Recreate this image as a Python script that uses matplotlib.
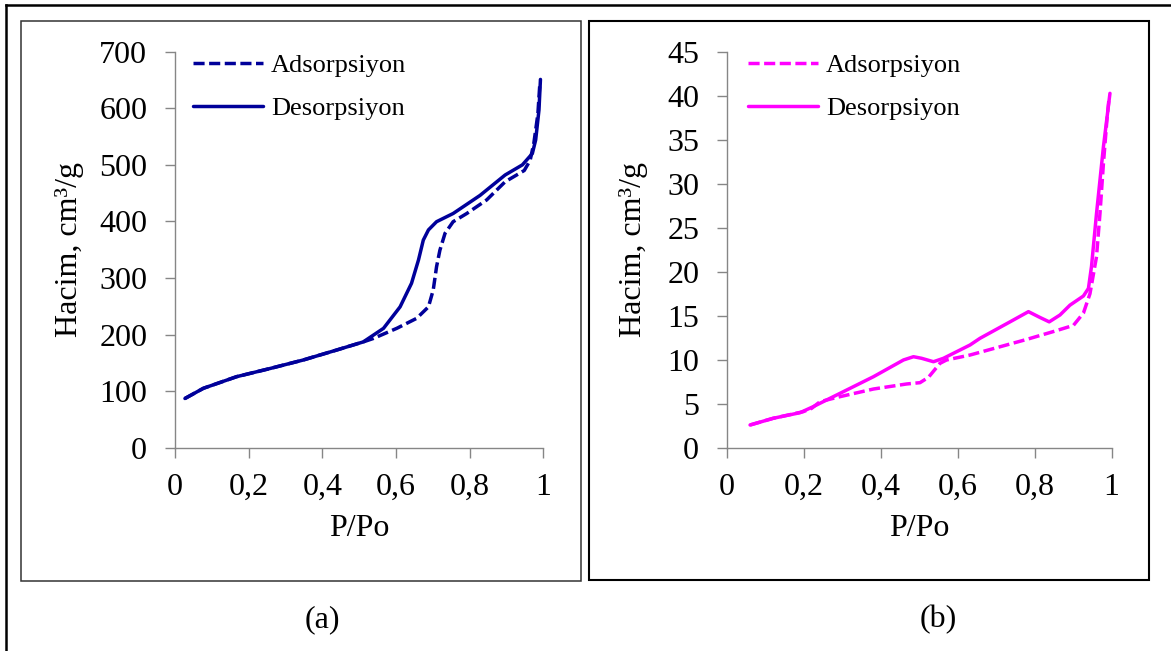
import matplotlib
matplotlib.use("Agg")
import matplotlib.pyplot as plt
from matplotlib.patches import Rectangle
from matplotlib.lines import Line2D

# ---------------- data ----------------
ads_a_x = [0.027, 0.077, 0.167, 0.258, 0.348, 0.439, 0.511, 0.538, 0.602, 0.656, 0.688,
           0.701, 0.710, 0.719, 0.733, 0.755, 0.792, 0.846, 0.896, 0.948, 0.964, 0.974,
           0.985, 0.99]
ads_a_y = [87, 105, 125.5, 140, 155, 172.7, 187, 193, 211, 228.7, 249,
           279, 320, 349, 379, 399.5, 414, 438, 470, 490, 508, 538,
           590, 640]

des_a_x = [0.027, 0.077, 0.167, 0.258, 0.348, 0.439, 0.511, 0.566, 0.611, 0.642, 0.661,
           0.674, 0.688, 0.710, 0.755, 0.828, 0.896, 0.943, 0.97, 0.979, 0.988, 0.992]
des_a_y = [87, 105, 125.5, 140, 155, 172.7, 187, 211, 249, 290.6, 332,
           367, 385, 399.5, 414, 446, 482, 500, 520, 544, 597, 651]

ads_b_x = [0.060, 0.120, 0.198, 0.220, 0.242, 0.294, 0.381, 0.467, 0.502, 0.524, 0.554,
           0.571, 0.632, 0.779, 0.849, 0.901, 0.927, 0.944, 0.961, 0.970, 0.979, 0.988,
           0.994]
ads_b_y = [2.58, 3.34, 4.09, 4.47, 5.23, 5.8, 6.67, 7.24, 7.39, 8.0, 9.59,
           9.97, 10.53, 12.3, 13.2, 13.9, 15.3, 17.5, 21.7, 26.6, 32.3, 37.2,
           39.9]

des_b_x = [0.060, 0.120, 0.190, 0.224, 0.294, 0.381, 0.459, 0.485, 0.506, 0.537, 0.563,
           0.632, 0.658, 0.736, 0.784, 0.814, 0.838, 0.866, 0.892, 0.927, 0.940, 0.948,
           0.961, 0.979, 0.996]
des_b_y = [2.58, 3.34, 3.98, 4.66, 6.18, 8.07, 9.97, 10.34, 10.16, 9.77, 10.16,
           11.67, 12.43, 14.3, 15.46, 14.8, 14.3, 15.08, 16.2, 17.24, 18.1, 20.6,
           26.6, 34.2, 40.27]

x_ticks = [0, 0.2, 0.4, 0.6, 0.8, 1]
x_ticklabels = ["0", "0,2", "0,4", "0,6", "0,8", "1"]
y_ticks_a = [0, 100, 200, 300, 400, 500, 600, 700]
y_ticks_b = [0, 5, 10, 15, 20, 25, 30, 35, 40, 45]
series_labels = ["Adsorpsiyon", "Desorpsiyon"]
x_label = "P/Po"
y_label = "Hacim, cm³/g"
panel_labels = ["(a)", "(b)"]

# ---------------- style ----------------
plt.rcParams['font.family'] = 'serif'
plt.rcParams['font.serif'] = ['Liberation Serif', 'Times New Roman', 'DejaVu Serif']
W, H = 1171, 651
fig = plt.figure(figsize=(W / 100, H / 100), dpi=100)

def fx(px):
    return px / W

def fy(py):
    return 1 - py / H

TICK_FS = 23
LEG_FS = 19
LW = 2.5
DASH = (3.2, 1.3)
AXIS_GRAY = "#868686"

def make_panel(left_px, right_px, xs_ads, ys_ads, xs_des, ys_des, color,
               yticks, ylabel_x, leg_x):
    top_px, bot_px = 51.7, 447.7
    ax = fig.add_axes([fx(left_px), fy(bot_px), fx(right_px - left_px), (bot_px - top_px) / H])
    ax.plot(xs_ads, ys_ads, color=color, lw=LW, linestyle=(0, DASH),
            label=series_labels[0], solid_joinstyle='round')
    ax.plot(xs_des, ys_des, color=color, lw=LW, label=series_labels[1],
            solid_joinstyle='round', solid_capstyle='round')
    ax.set_xlim(0, 1)
    ax.set_ylim(yticks[0], yticks[-1])
    ax.set_xticks(x_ticks)
    ax.set_xticklabels(x_ticklabels)
    ax.set_yticks(yticks)
    ax.set_yticklabels([str(v) for v in yticks])
    for s in ['top', 'right']:
        ax.spines[s].set_visible(False)
    for s in ['left', 'bottom']:
        ax.spines[s].set_color(AXIS_GRAY)
        ax.spines[s].set_linewidth(1.0)
    ax.tick_params(axis='both', direction='out', length=7, width=1.0,
                   color=AXIS_GRAY, labelsize=TICK_FS, labelcolor='black')
    ax.tick_params(axis='y', pad=13)
    ax.tick_params(axis='x', pad=11)
    ax.set_xlabel(x_label, fontsize=TICK_FS)
    ax.set_ylabel(y_label, fontsize=TICK_FS, va='center')
    width_px = right_px - left_px
    ax.yaxis.set_label_coords((ylabel_x - left_px) / width_px, 0.5)
    ax.xaxis.set_label_coords(0.5, (bot_px - 514) / (bot_px - top_px))
    ax.xaxis.label.set_va('top')
    ax.patch.set_alpha(0)
    ax.legend(loc='upper left',
              bbox_to_anchor=((leg_x - left_px) / width_px, 0.995),
              frameon=False, fontsize=LEG_FS, handlelength=2.66,
              handletextpad=0.3, labelspacing=0.73, borderpad=0,
              borderaxespad=0)
    return ax

make_panel(175, 543.4, ads_a_x, ads_a_y, des_a_x, des_a_y, "#00009A",
           y_ticks_a, 69, 192.7)
make_panel(727, 1111.5, ads_b_x, ads_b_y, des_b_x, des_b_y, "#FF00FF",
           y_ticks_b, 633, 747.8)

# panel boxes
fig.add_artist(Rectangle((fx(20.7), fy(580.7)), fx(581 - 20.7), (580.7 - 20.7) / H,
                         transform=fig.transFigure, fill=False, edgecolor="#333333",
                         lw=1.1, zorder=0))
fig.add_artist(Rectangle((fx(589), fy(580)), fx(1149.3 - 589), (580 - 21) / H,
                         transform=fig.transFigure, fill=False, edgecolor="black",
                         lw=1.5, zorder=0))
# outer frame (top and left lines)
fig.add_artist(Line2D([fx(6), 1], [fy(5), fy(5)], transform=fig.transFigure,
                      color='black', lw=1.8))
fig.add_artist(Line2D([fx(6), fx(6)], [fy(5), 0], transform=fig.transFigure,
                      color='black', lw=1.8))

fig.text(fx(322.6), fy(620), panel_labels[0], ha='center', va='center', fontsize=TICK_FS)
fig.text(fx(938), fy(620), panel_labels[1], ha='center', va='center', fontsize=TICK_FS)

fig.savefig("out.png", dpi=100)
